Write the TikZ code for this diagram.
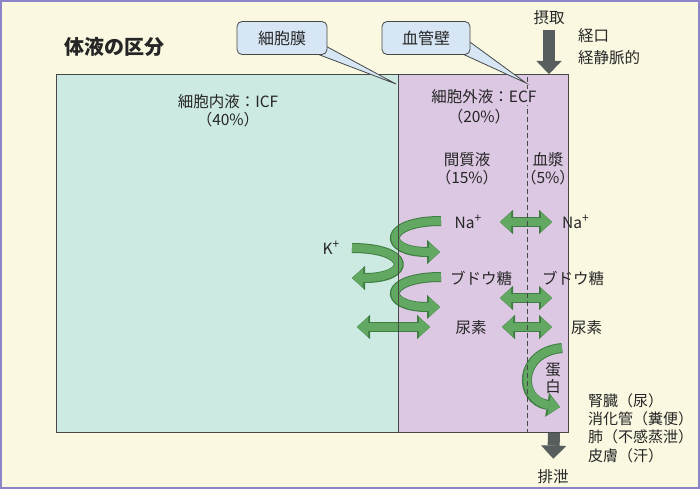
\documentclass[tikz,border=0pt]{standalone}
\usepackage{fontspec}
\setmainfont{Noto Sans CJK JP}
\usepackage{tikz}
\usetikzlibrary{arrows.meta}
\usepackage{xcolor}

\definecolor{cream}{HTML}{FAF8E1}
\definecolor{framecol}{HTML}{8C84C8}
\definecolor{icfcol}{HTML}{CDEAE2}
\definecolor{ecfcol}{HTML}{DCC8E2}
\definecolor{edgecol}{HTML}{464848}
\definecolor{callfill}{HTML}{D7E6F5}
\definecolor{gfill}{HTML}{62A862}
\definecolor{gedge}{HTML}{3E7E42}
\definecolor{bulkcol}{HTML}{585D5D}
\definecolor{inkcol}{HTML}{262626}

\newcommand{\ionp}{\raisebox{0.42em}{\fontsize{12}{12}\selectfont +}}

\begin{document}
\begin{tikzpicture}[x=1pt, y=-1pt,
        txt/.style={font=\fontsize{15.5}{18}\selectfont, text=inkcol, inner sep=1pt},
        region/.style={anchor=north west, inner sep=0pt, outer sep=0pt, minimum height=358pt},
        callbox/.style={draw=edgecol, fill=callfill, rounded corners=5pt, line width=0.8pt,
            minimum width=90pt, minimum height=33pt, font=\fontsize{16}{18}\selectfont, text=inkcol},
        pointer/.style={draw=edgecol, fill=callfill, line width=0.8pt},
        gtip/.tip={Triangle[length=11pt, width=19pt, line width=0.1pt]},
        gtipo/.tip={Triangle[length=13pt, width=24pt, line width=0.1pt]},
        oneway/.style={draw=gfill, line width=8pt, -gtip,
            preaction={draw=gedge, line width=10pt, -gtipo}},
        twoway/.style={draw=gfill, line width=8pt, gtip-gtip,
            preaction={draw=gedge, line width=10pt, gtipo-gtipo}},
        bulk/.style={draw=bulkcol, line width=12pt, -{Triangle[length=13pt, width=25pt, line width=0.1pt]}},
        edge/.style={draw=edgecol, line width=0.9pt},
        wall/.style={draw=edgecol, line width=0.9pt, dash pattern=on 5pt off 3pt}]

        % --- Page ---
        \useasboundingbox (0,0) rectangle (700,489);
        \fill[cream] (0,0) rectangle (700,489);
        \draw[framecol, line width=2pt] (1,1) rectangle (699,488);

        \node[font=\bfseries\fontsize{20}{22}\selectfont, text=inkcol, anchor=west] (T) at (61,47) {体液の区分};

        % --- Compartments ---
        \node[region, fill=icfcol, minimum width=342pt] (ICF) at (56,74) {};
        \node[region, fill=ecfcol, minimum width=170pt] (ECF) at (398,74) {};

        % --- Exchange arrows ---
        \coordinate (NaA) at (500,222);  \coordinate (NaB) at (552,222);
        \coordinate (GlA) at (500,298);  \coordinate (GlB) at (552,298);
        \coordinate (UrA) at (502,327);  \coordinate (UrB) at (552,327);
        \coordinate (UmA) at (357,327);  \coordinate (UmB) at (430,327);
        \draw[twoway] (NaA) -- (NaB);
        \draw[twoway] (GlA) -- (GlB);
        \draw[twoway] (UrA) -- (UrB);
        \draw[twoway] (UmA) -- (UmB);

        \coordinate (C1a) at (441,221);  \coordinate (C1b) at (440,252);
        \coordinate (C2a) at (352,248);  \coordinate (C2b) at (352,278);
        \coordinate (C3a) at (441,277);  \coordinate (C3b) at (440,307);
        \coordinate (PrA) at (562,348);  \coordinate (PrB) at (560,407);
        \draw[oneway] (C1a) .. controls (382,221) and (382,252) .. (C1b);
        \draw[oneway] (C2a) .. controls (412,248) and (412,278) .. (C2b);
        \draw[oneway] (C3a) .. controls (382,277) and (382,307) .. (C3b);
        \draw[oneway] (PrA) .. controls (518,352) and (518,400) .. (PrB);

        % --- Borders ---
        \draw[edge] (ICF.north west) rectangle (ECF.south east);
        \draw[edge] (ECF.north west) -- (ECF.south west);
        \coordinate (VwTop) at (527,77);
        \coordinate (VwBot) at (527,432);
        \draw[wall] (VwTop) -- (VwBot);

        % --- Callouts ---
        \coordinate (MbTip) at (396,84);
        \coordinate (VwTip) at (526,83);
        \filldraw[pointer] (320,43) -- (MbTip) -- (312,52) -- cycle;
        \filldraw[pointer] (463,37) -- (VwTip) -- (456,51) -- cycle;
        \node[callbox] (Mb) at (282,38) {細胞膜};
        \node[callbox, minimum width=88pt] (Vw) at (426,38) {血管壁};

        % --- Labels ---
        \node[txt, align=center] (IcfL) at (228,111) {細胞内液：ICF\\（40\%）};
        \node[txt, fill=ecfcol] (EcfL) at (484,97) {細胞外液：ECF};
        \node[txt] (EcfP) at (479,117) {（20\%）};
        \node[txt, align=center] (Isf) at (467,169) {間質液\\（15\%）};
        \node[txt, align=center] (Pl) at (548,169) {血漿\\（5\%）};

        \node[txt] (NaI) at (468,222) {Na\ionp};
        \node[txt, anchor=west] (NaP) at (561,222) {Na\ionp};
        \node[txt] (GlI) at (481,278) {ブドウ糖};
        \node[txt, anchor=west] (GlP) at (541,278) {ブドウ糖};
        \node[txt] (UrI) at (471,328) {尿素};
        \node[txt, anchor=west] (UrP) at (570,328) {尿素};
        \node[txt] (K) at (331,248) {K\ionp};
        \node[txt, align=center, font=\fontsize{15.5}{17}\selectfont] (Pr) at (553,378) {蛋\\白};

        % --- Intake and excretion ---
        \node[txt] (In) at (549,18) {摂取};
        \node[txt, anchor=west, align=left, font=\fontsize{15.5}{22}\selectfont] (InR) at (577,47) {経口\\経静脈的};
        \coordinate (InTip) at (549,74);
        \draw[bulk, shorten <=4pt] (In.south) -- (InTip);

        \node[txt] (Ex) at (553,477) {排泄};
        \node[txt, anchor=west, align=left, font=\fontsize{15}{18.4}\selectfont] (ExR) at (587,428)
            {腎臓（尿）\\消化管（糞便）\\肺（不感蒸泄）\\皮膚（汗）};
        \coordinate (ExTop) at (554,433);
        \draw[bulk, shorten >=10pt] (ExTop) -- (Ex.north);

    \end{tikzpicture}
\end{document}
